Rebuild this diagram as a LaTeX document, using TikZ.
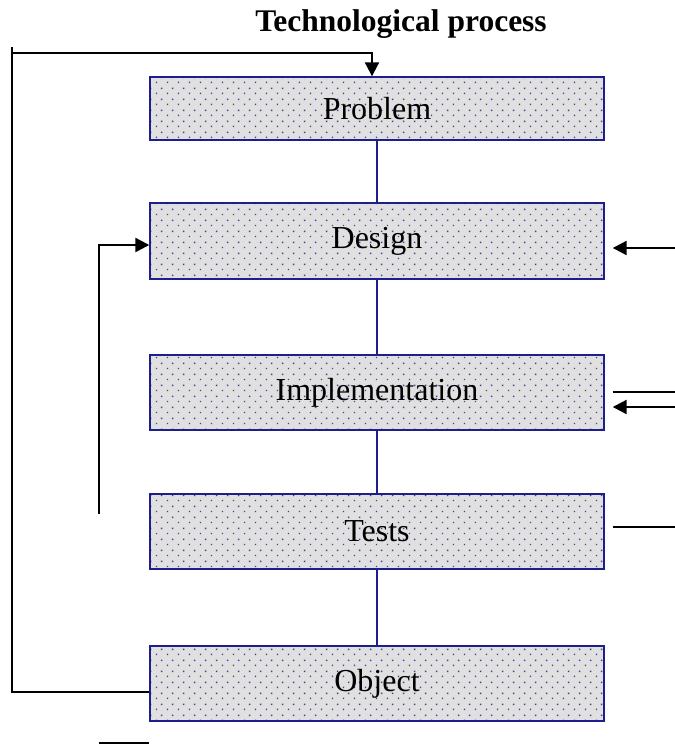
\documentclass[tikz,border=0pt]{standalone}
\usepackage{fontspec}
\setmainfont{Liberation Serif}
\usetikzlibrary{arrows.meta,patterns.meta}
\definecolor{navy}{RGB}{30,30,140}
\definecolor{boxgray}{RGB}{224,224,224}
\tikzdeclarepattern{
  name=stagedots,
  type=uncolored,
  bottom left={(0pt,0pt)},
  top right={(11pt,11pt)},
  tile size={(11pt,11pt)},
  code={
    \pgfpathrectangle{\pgfpoint{2pt}{2pt}}{\pgfpoint{1.5pt}{1.5pt}}
    \pgfpathrectangle{\pgfpoint{7.5pt}{7.5pt}}{\pgfpoint{1.5pt}{1.5pt}}
    \pgfusepath{fill}
  }
}
\begin{document}
\begin{tikzpicture}[x=1pt,y=-1pt,
  stage/.style={draw=navy,line width=1.4pt,minimum width=454pt,minimum height=75pt,inner sep=0pt,
    preaction={fill=boxgray},pattern=stagedots,pattern color=navy!85,
    font=\fontsize{32}{36}\selectfont},
  link/.style={draw=navy,line width=1.8pt},
  feed/.style={line width=2.2pt},
  tip/.style={feed,-{Triangle[length=14pt,width=14pt]}}]
  \useasboundingbox (0,0) rectangle (675,745);
  \node[font=\bfseries\fontsize{31.5}{36}\selectfont] (title) at (401,24) {Technological process};
  \node[stage,minimum height=63pt] (problem) at (377,108.5) {Problem};
  \node[stage,minimum height=76pt] (design) at (377,241) {Design};
  \node[stage] (impl) at (377,392.5) {Implementation};
  \node[stage] (tests) at (377,531.5) {Tests};
  \node[stage] (object) at (377,683.5) {Object};
  \foreach \a/\b in {problem/design,design/impl,impl/tests,tests/object}
    \draw[link] (\a.south) -- (\b.north);
  % outer loop back to the problem
  \coordinate (outerTop) at (12,47);
  \coordinate (outerL) at (12,53);
  \draw[feed] ([yshift=-8.5pt]object.west) -| (outerTop);
  \draw[tip] (outerL) -| ([xshift=-5pt]problem.north);
  % inner loop back to the design
  \coordinate (innerL) at (99,514);
  \draw[tip] (innerL) |- ([yshift=-4pt]design.west);
  \coordinate (baseL) at (99,743);
  \draw[feed] (baseL) -- (baseL -| object.west);
  % right hand inputs and outputs
  \coordinate (dIn) at (675,248);
  \draw[tip,shorten >=8pt] (dIn) -- (dIn -| design.east);
  \coordinate (iOut) at (675,392);
  \draw[feed,shorten <=8pt] (iOut -| impl.east) -- (iOut);
  \coordinate (iIn) at (675,407);
  \draw[tip,shorten >=8pt] (iIn) -- (iIn -| impl.east);
  \coordinate (tOut) at (675,527);
  \draw[feed,shorten <=8pt] (tOut -| tests.east) -- (tOut);
\end{tikzpicture}
\end{document}
